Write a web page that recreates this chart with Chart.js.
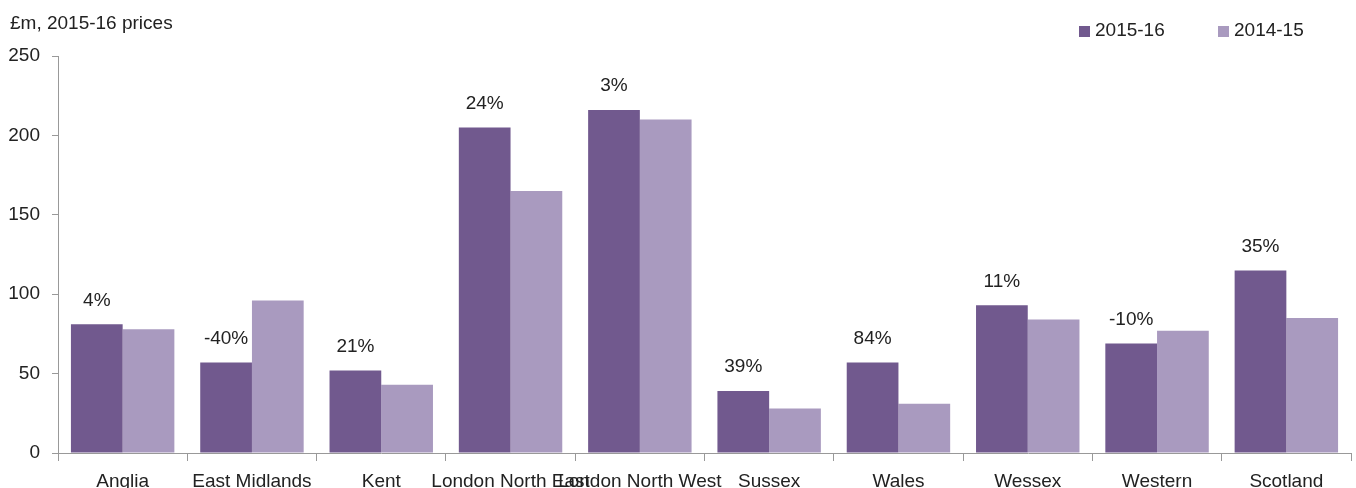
<!DOCTYPE html>
<html>
<head>
<meta charset="utf-8">
<script src="https://cdn.jsdelivr.net/npm/chart.js@4/dist/chart.umd.min.js"></script>
<style>
  html, body { margin: 0; padding: 0; background: #fff; }
  #wrap { width: 1356px; height: 488px; position: relative; }
</style>
</head>
<body>
<div id="wrap"><canvas id="regionChart"></canvas></div>
<script>
// values, £m at 2015-16 prices
const regions = ['Anglia', 'East Midlands', 'Kent', 'London North East', 'London North West',
                 'Sussex', 'Wales', 'Wessex', 'Western', 'Scotland'];
const spend2015 = [81, 57, 52, 205, 216, 39, 57, 93, 69, 115];
const spend2014 = [78, 96, 43, 165, 210, 28, 31, 84, 77, 85];
const changeLabels = ['4%', '-40%', '21%', '24%', '3%', '39%', '84%', '11%', '-10%', '35%'];
const yTicks = [0, 50, 100, 150, 200, 250];

const FONT = 'Liberation Sans';
const FONT_SIZE = 19;
const darkPurple = '#71598e';
const lightPurple = '#a99abf';

// unit note top left, a small legend top right, and the change % over each pair of bars
const annotate = {
    id: 'annotate',
    afterDraw(chart) {
        const ctx = chart.ctx;
        ctx.save();
        ctx.fillStyle = '#222';
        ctx.font = FONT_SIZE + 'px "' + FONT + '"';
        ctx.textAlign = 'left';
        ctx.textBaseline = 'middle';
        ctx.fillText('£m, 2015-16 prices', 10, 24);

        // legend
        const items = chart.data.datasets;
        const legendX = [1079, 1218];
        items.forEach((ds, i) => {
            ctx.fillStyle = ds.backgroundColor;
            ctx.fillRect(legendX[i], 26, 11, 11);
            ctx.fillStyle = '#222';
            ctx.fillText(ds.label, legendX[i] + 16, 31);
        });

        const meta = chart.getDatasetMeta(0);
        ctx.textAlign = 'center';
        meta.data.forEach((bar, i) => {
            ctx.fillText(changeLabels[i], bar.x, bar.y - 24);
        });
        ctx.restore();
    }
};

const ctx = document.getElementById('regionChart').getContext('2d');
const chart = new Chart(ctx, {
    type: 'bar',
    data: {
        labels: regions,
        datasets: [
            { label: '2015-16', data: spend2015, backgroundColor: darkPurple },
            { label: '2014-15', data: spend2014, backgroundColor: lightPurple }
        ]
    },
    options: {
        responsive: true,
        maintainAspectRatio: false,
        animation: false,
        categoryPercentage: 0.8,
        barPercentage: 1.0,
        layout: { padding: { left: 2, right: 5, top: 56, bottom: 0 } },
        plugins: {
            tooltip: { enabled: false },
            legend: { display: false }
        },
        scales: {
            x: {
                afterFit(axis) { axis.height = 35; },
                grid: { display: true, drawOnChartArea: false, drawTicks: true, tickLength: 8, color: '#999', offset: true },
                border: { display: true, color: '#999' },
                ticks: {
                    autoSkip: false,
                    maxRotation: 0,
                    minRotation: 0,
                    padding: 9,
                    color: '#222',
                    font: { family: FONT, size: FONT_SIZE }
                }
            },
            y: {
                min: 0,
                max: 250,
                afterBuildTicks(axis) { axis.ticks = yTicks.map(v => ({ value: v })); },
                afterFit(axis) { axis.width = 56; },
                grid: { display: true, drawOnChartArea: false, drawTicks: true, tickLength: 6, color: '#999' },
                border: { display: true, color: '#999' },
                ticks: {
                    padding: 12,
                    color: '#222',
                    font: { family: FONT, size: FONT_SIZE }
                }
            }
        }
    },
    plugins: [annotate]
});
</script>
</body>
</html>
